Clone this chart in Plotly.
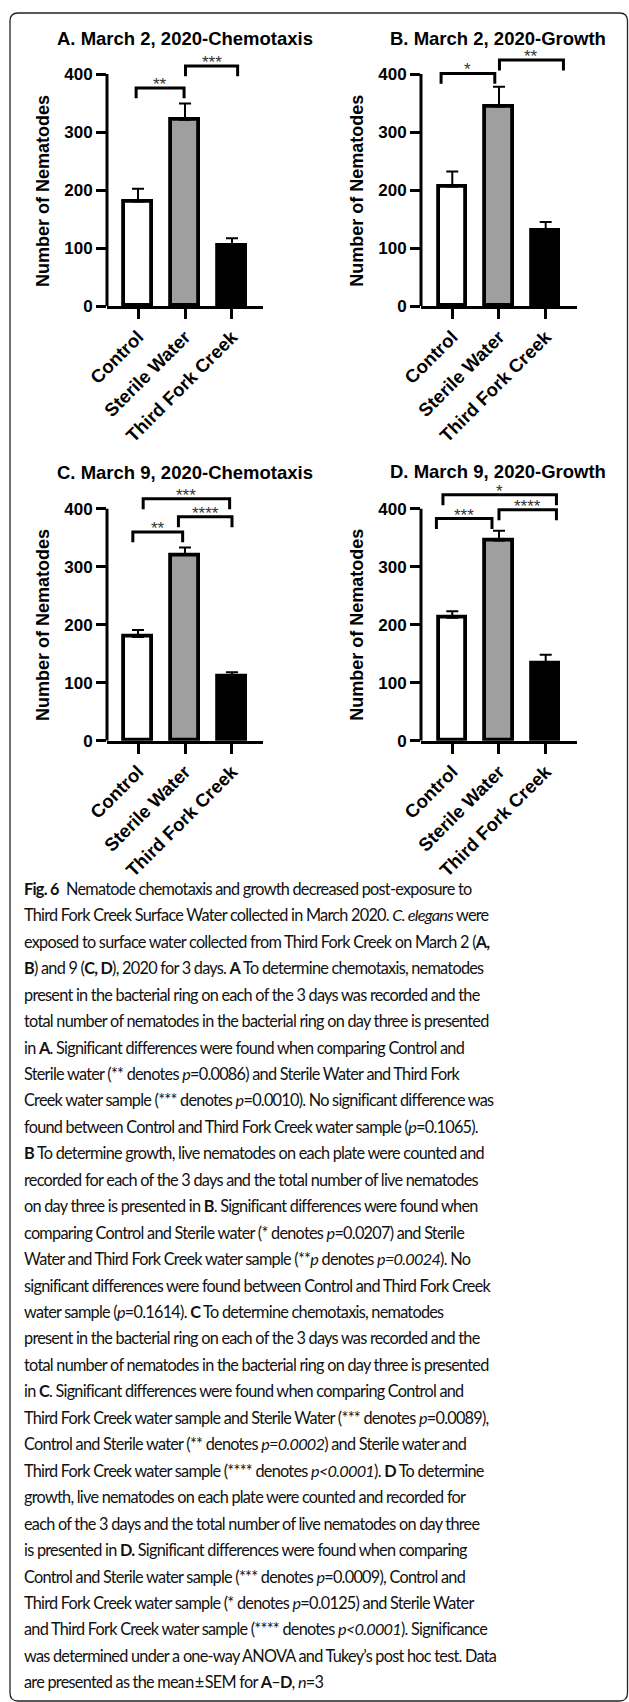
import plotly.graph_objects as go

# ---------------- data ----------------
categories = ["Control", "Sterile Water", "Third Fork Creek"]
y_ticks = [0, 100, 200, 300, 400]

titles = ["A. March 2, 2020-Chemotaxis", "B. March 2, 2020-Growth",
          "C. March 9, 2020-Chemotaxis", "D. March 9, 2020-Growth"]

a_mean = [180, 321, 104]
a_sem = [22, 28, 13]
b_mean = [206, 344, 130]
b_sem = [26, 34, 15]
c_mean = [179, 320, 110]
c_sem = [12, 13, 8]
d_mean = [212, 345, 133]
d_sem = [11, 17, 15]

# significance brackets: (left x, right x, bracket height, label)
a_sig = [(-0.04, 0.98, 376, "**"), (1.01, 2.12, 414, "***")]
b_sig = [(-0.24, 0.91, 401, "*"), (1.01, 2.38, 424, "**")]
c_sig = [(-0.11, 0.95, 360, "**"), (0.86, 2.0, 386, "****"), (0.11, 1.95, 417, "***")]
d_sig = [(-0.34, 0.85, 383, "***"), (1.0, 2.23, 398, "****"), (-0.2, 2.23, 424, "*")]

y_title = "Number of Nematodes"

caption_lines = [
    "<b>Fig. 6</b>\u2002Nematode chemotaxis and growth decreased post-exposure to",
    "Third Fork Creek Surface Water collected in March 2020. <i>C. elegans</i> were",
    "exposed to surface water collected from Third Fork Creek on March 2 (<b>A,</b>",
    "<b>B</b>) and 9 (<b>C, D</b>), 2020 for 3 days. <b>A</b> To determine chemotaxis, nematodes",
    "present in the bacterial ring on each of the 3 days was recorded and the",
    "total number of nematodes in the bacterial ring on day three is presented",
    "in <b>A</b>. Significant differences were found when comparing Control and",
    "Sterile water (** denotes <i>p</i>=0.0086) and Sterile Water and Third Fork",
    "Creek water sample (*** denotes <i>p</i>=0.0010). No significant difference was",
    "found between Control and Third Fork Creek water sample (<i>p</i>=0.1065).",
    "<b>B</b> To determine growth, live nematodes on each plate were counted and",
    "recorded for each of the 3 days and the total number of live nematodes",
    "on day three is presented in <b>B</b>. Significant differences were found when",
    "comparing Control and Sterile water (* denotes <i>p</i>=0.0207) and Sterile",
    "Water and Third Fork Creek water sample (**<i>p</i> denotes <i>p=0.0024</i>). No",
    "significant differences were found between Control and Third Fork Creek",
    "water sample (<i>p</i>=0.1614). <b>C</b> To determine chemotaxis, nematodes",
    "present in the bacterial ring on each of the 3 days was recorded and the",
    "total number of nematodes in the bacterial ring on day three is presented",
    "in <b>C</b>. Significant differences were found when comparing Control and",
    "Third Fork Creek water sample and Sterile Water (*** denotes <i>p</i>=0.0089),",
    "Control and Sterile water (** denotes <i>p=0.0002</i>) and Sterile water and",
    "Third Fork Creek water sample (**** denotes <i>p&lt;0.0001</i>). <b>D</b> To determine",
    "growth, live nematodes on each plate were counted and recorded for",
    "each of the 3 days and the total number of live nematodes on day three",
    "is presented in <b>D.</b> Significant differences were found when comparing",
    "Control and Sterile water sample (*** denotes <i>p</i>=0.0009), Control and",
    "Third Fork Creek water sample (* denotes <i>p</i>=0.0125) and Sterile Water",
    "and Third Fork Creek water sample (**** denotes <i>p&lt;0.0001</i>). Significance",
    "was determined under a one-way ANOVA and Tukey\u2019s post hoc test. Data",
    "are presented as the mean\u2009\u00b1\u2009SEM for <b>A</b>\u2013<b>D</b>, <i>n</i>=3",
]

# ---------------- layout geometry (pixels) ----------------
W, H = 629, 1702
FONT = "Liberation Sans, Arial, sans-serif"
bar_colors = ["#ffffff", "#9f9f9f", "#000000"]
Y_MAX = 440
PX_PER_UNIT = 0.58
LEG = 18

panels = [
    dict(mean=a_mean, sem=a_sem, sig=a_sig, x0=107, x1=263, xr=[-0.66, 2.66], y0=306,
         tx=185, ty=38, ytx=43, yty=191),
    dict(mean=b_mean, sem=b_sem, sig=b_sig, x0=421, x1=576.7, xr=[-0.67, 2.664], y0=306,
         tx=498, ty=38, ytx=356.7, yty=191),
    dict(mean=c_mean, sem=c_sem, sig=c_sig, x0=107, x1=263, xr=[-0.66, 2.66], y0=740.7,
         tx=185, ty=472.5, ytx=43, yty=625),
    dict(mean=d_mean, sem=d_sem, sig=d_sig, x0=421, x1=576.7, xr=[-0.67, 2.664], y0=740.7,
         tx=498, ty=471.5, ytx=356.7, yty=625),
]


def px(x):
    return x / W


def py(y):
    return 1 - y / H


fig = go.Figure()
annotations = []
shapes = []
xs = list(range(len(categories)))

for i, p in enumerate(panels):
    n = "" if i == 0 else str(i + 1)
    xa, ya = "x" + n, "y" + n
    top_px = p["y0"] - Y_MAX * PX_PER_UNIT
    fig.add_trace(go.Bar(
        x=xs, y=p["mean"], width=0.58, xaxis=xa, yaxis=ya,
        marker=dict(color=bar_colors, line=dict(color="black", width=3.8)),
        error_y=dict(type="data", array=p["sem"], arrayminus=[0] * 3, symmetric=False,
                     color="black", thickness=2, width=6),
        showlegend=False, hoverinfo="skip",
    ))
    for (xl, xr_, yt, lab) in p["sig"]:
        fig.add_trace(go.Scatter(
            x=[xl, xl, xr_, xr_], y=[yt - LEG, yt, yt, yt - LEG], mode="lines",
            line=dict(color="black", width=3), xaxis=xa, yaxis=ya,
            showlegend=False, hoverinfo="skip",
        ))
        annotations.append(dict(
            x=(xl + xr_) / 2, y=yt, xref=xa, yref=ya, text=lab, showarrow=False,
            yanchor="bottom", xanchor="center", yshift=-8,
            font=dict(family=FONT, size=17, color="#333333"),
        ))
    fig.update_layout(**{
        "xaxis" + n: dict(
            domain=[px(p["x0"]), px(p["x1"])], range=p["xr"], anchor=ya,
            tickvals=xs, ticktext=categories, tickangle=-45, automargin=False,
            tickfont=dict(family=FONT, size=18.5, color="black", weight="bold"),
            showline=True, linewidth=3, linecolor="black",
            ticks="outside", ticklen=10, tickwidth=3, tickcolor="black",
            showgrid=False, zeroline=False, fixedrange=True,
        ),
        "yaxis" + n: dict(
            domain=[py(p["y0"]), py(top_px)], range=[0, Y_MAX], anchor=xa,
            tickvals=y_ticks, automargin=False,
            tickfont=dict(family=FONT, size=17, color="black", weight="bold"),
            showline=False, ticks="outside", ticklen=10, tickwidth=3, tickcolor="black",
            showgrid=False, zeroline=False, fixedrange=True,
        ),
    })
    # y-axis line from 0 to the top tick
    shapes.append(dict(type="line", xref=xa + " domain", yref=ya, x0=0, x1=0,
                       y0=y_ticks[0], y1=y_ticks[-1], line=dict(color="black", width=3)))
    annotations.append(dict(
        x=px(p["tx"]), y=py(p["ty"]), xref="paper", yref="paper", showarrow=False,
        text="<b>" + titles[i] + "</b>", xanchor="center", yanchor="middle",
        font=dict(family=FONT, size=18.5, color="black"),
    ))
    annotations.append(dict(
        x=px(p["ytx"]), y=py(p["yty"]), xref="paper", yref="paper", showarrow=False,
        text="<b>" + y_title + "</b>", textangle=-90, xanchor="center", yanchor="middle",
        font=dict(family=FONT, size=18, color="black"),
    ))

# caption
CAP_X = 22
CAP_Y0 = 888.3
CAP_DY = 26.45
for k, line in enumerate(caption_lines):
    annotations.append(dict(
        x=px(CAP_X), y=py(CAP_Y0 + k * CAP_DY), xref="paper", yref="paper",
        showarrow=False, xanchor="left", yanchor="middle", align="left",
        text='<span style="letter-spacing:-0.75px">' + line + "</span>",
        font=dict(family="Lato, sans-serif", size=16.3, color="#111111"),
    ))

# rounded frame
L, R, T, B = px(10), px(627.5), py(13), py(1701)
rx, ry = 8 / W, 8 / H
frame = (f"M {L},{B + ry} L {L},{T - ry} Q {L},{T} {L + rx},{T} L {R - rx},{T} "
         f"Q {R},{T} {R},{T - ry} L {R},{B + ry} Q {R},{B} {R - rx},{B} "
         f"L {L + rx},{B} Q {L},{B} {L},{B + ry} Z")
shapes.append(dict(type="path", xref="paper", yref="paper", path=frame,
                   line=dict(color="#222222", width=1.3)))

fig.update_layout(
    width=W, height=H, margin=dict(l=0, r=0, t=0, b=0, autoexpand=False),
    paper_bgcolor="white", plot_bgcolor="rgba(0,0,0,0)",
    annotations=annotations, shapes=shapes, showlegend=False,
    bargap=0,
)

fig.write_html(
    "out.html",
    config={"displayModeBar": False},
    post_script="document.body.style.margin='0';document.body.style.padding='0';"
                "document.documentElement.style.overflow='hidden';",
)
